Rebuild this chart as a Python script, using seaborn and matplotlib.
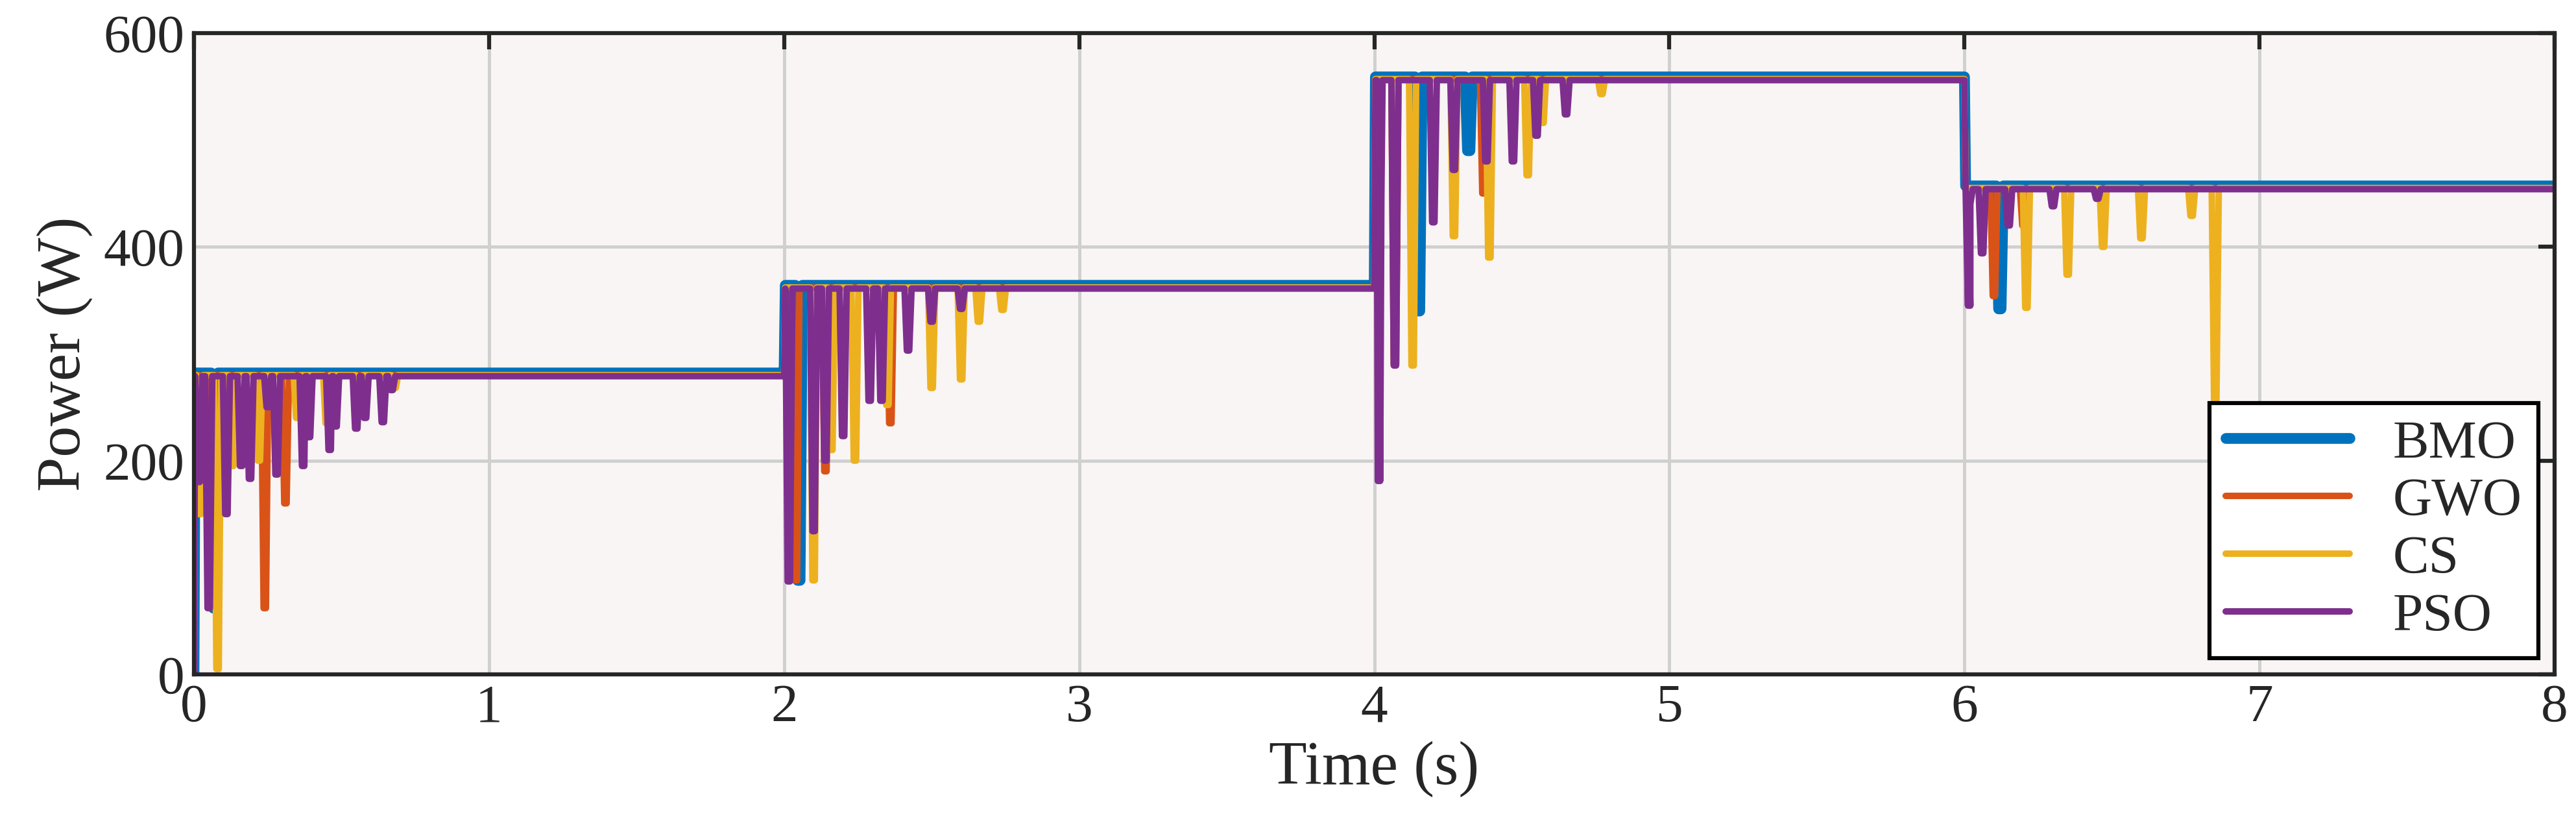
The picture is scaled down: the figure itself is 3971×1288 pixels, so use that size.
import numpy as np
import pandas as pd
import matplotlib
matplotlib.use("Agg")
import matplotlib.pyplot as plt
import seaborn as sns

# Step levels (W) for each 2 s interval
seg_start = [0.0, 2.0, 4.0, 6.0]
seg_end = [2.0, 4.0, 6.0, 8.0]
levels = [280, 362, 557, 455]

# Transient dips: (time s, power W)
bmo_dips = [(0.07, 62), (2.05, 88), (4.15, 340), (4.32, 490), (6.12, 342)]
gwo_dips = [(0.03, 180), (0.24, 62), (0.31, 160), (2.04, 88), (2.14, 190), (2.36, 235),
            (4.07, 290), (4.37, 450), (6.1, 354), (6.2, 420)]
cs_dips = [(0.02, 150), (0.08, 5), (0.13, 195), (0.22, 200), (0.35, 240), (0.45, 235), (0.56, 260),
           (0.68, 268), (2.1, 88), (2.16, 210), (2.24, 200), (2.35, 252), (2.5, 268), (2.6, 276),
           (2.66, 330), (2.74, 341), (4.13, 289), (4.27, 410), (4.39, 390), (4.52, 467), (4.57, 516),
           (4.77, 543), (6.21, 343), (6.35, 374), (6.47, 400), (6.6, 408), (6.77, 429), (6.85, 255)]
pso_dips = [(0.01, 180), (0.05, 62), (0.11, 150), (0.16, 195), (0.19, 183), (0.25, 250), (0.28, 187),
            (0.37, 195), (0.39, 222), (0.46, 210), (0.48, 232), (0.55, 230), (0.58, 240), (0.64, 236),
            (0.67, 266), (2.01, 87), (2.1, 134), (2.14, 200), (2.2, 223), (2.29, 256), (2.33, 256),
            (2.42, 303), (2.5, 330), (2.6, 342), (3.99, 181), (4.02, 447), (4.07, 289), (4.2, 423),
            (4.27, 472), (4.38, 480), (4.47, 480), (4.55, 504), (4.65, 524), (5.99, 440), (6.0, 345),
            (6.06, 394), (6.15, 420), (6.3, 438), (6.45, 445)]


def build(dips, offset=0.0, w=0.012):
    frames = []
    for k, (s, e, lv) in enumerate(zip(seg_start, seg_end, levels)):
        lv = lv + offset
        pts = [(s, levels[k - 1] + offset if k > 0 else 0), (s + 0.004, lv)]
        for t, v in dips:
            if s - 0.02 <= t < e - 0.02:
                tt = max(t, s + 0.004 + w)
                pts += [(tt - w, lv), (tt - w / 3, v), (tt + w / 3, v), (tt + w, lv)]
        pts.append((e - 0.0005, lv))
        frames += sorted(pts)
    frames.append((8.0, levels[-1] + offset))
    return pd.DataFrame(frames, columns=["t", "p"])


series = [("BMO", bmo_dips, 2.0, "#0072BD", 4.0), ("GWO", gwo_dips, 0.0, "#D95319", 2.4),
          ("CS", cs_dips, 0.0, "#EDB120", 2.4), ("PSO", pso_dips, -1.0, "#7E2F8E", 2.4)]

sns.set_theme(style="white")
plt.rcParams["font.family"] = ["Liberation Serif", "DejaVu Serif"]

fig = plt.figure(figsize=(3971 / 300, 1288 / 300), dpi=300)
ax = fig.add_axes([299 / 3971, 1 - 1039 / 1288, (3938 - 299) / 3971, (1039 - 51) / 1288])
ax.set_facecolor("#f9f5f4")

for name, dips, off, col, lw in series:
    d = build(dips, off)
    sns.lineplot(data=d, x="t", y="p", ax=ax, color=col, linewidth=lw, label=name,
                 estimator=None, sort=False)

ax.set_xlim(0, 8)
ax.set_ylim(0, 600)
ax.set_xticks(range(0, 9))
ax.set_yticks([0, 200, 400, 600])
ax.grid(True, color="#d0d0d0", linewidth=1.2)
ax.tick_params(direction="in", length=6, width=1.5, labelsize=20, top=True, right=True,
               colors="#262626")
for sp in ax.spines.values():
    sp.set_linewidth(1.5)
    sp.set_color("#262626")
ax.set_xlabel("Time (s)", fontsize=23, labelpad=3)
ax.set_ylabel("Power (W)", fontsize=23, labelpad=4)
leg = ax.legend(loc="lower right", fontsize=20, frameon=True, fancybox=False,
                edgecolor="black", framealpha=1, borderaxespad=0.3, handlelength=2.3,
                labelspacing=0.15, borderpad=0.3)
leg.get_frame().set_linewidth(1.5)
fig.savefig("out.png", dpi=300, facecolor="white")
